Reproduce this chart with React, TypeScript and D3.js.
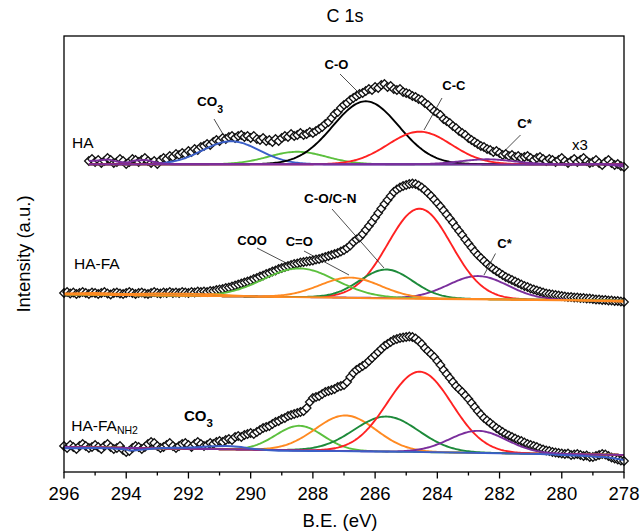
import React from 'react';
import * as d3 from 'd3';

// ---------- data ----------
const xTicks = [296, 294, 292, 290, 288, 286, 284, 282, 280, 278];
const xMinorTicks = [295, 293, 291, 289, 287, 285, 283, 281, 279];
const energyStep = 0.1;

// measured spectra (intensity, a.u.) sampled every 0.1 eV from the start energy downwards
const haStart = 295.2;
const haData = [
  311, 313, 310, 312, 309, 311, 314, 312, 309, 310,
  313, 311, 308, 310, 313, 312, 310, 312, 314, 311,
  309, 311, 308, 312, 314, 313, 316, 315, 318, 317,
  319, 318, 321, 320, 323, 322, 325, 326, 328, 327,
  330, 332, 331, 334, 333, 335, 336, 334, 336, 337,
  335, 336, 334, 336, 333, 332, 334, 331, 332, 330,
  333, 331, 334, 336, 335, 338, 336, 337, 339, 337,
  338, 340, 339, 341, 343, 345, 348, 350, 354, 358,
  360, 364, 367, 369, 372, 374, 376, 378, 379, 381,
  383, 382, 385, 384, 387, 388, 385, 386, 383, 382,
  383, 380, 379, 378, 376, 375, 373, 372, 369, 367,
  364, 361, 359, 357, 353, 351, 349, 346, 344, 341,
  339, 337, 334, 332, 330, 328, 326, 325, 323, 322,
  320, 321, 319, 317, 318, 316, 317, 315, 316, 314,
  315, 316, 314, 312, 314, 315, 313, 311, 313, 312,
  310, 312, 314, 311, 309, 311, 313, 310, 312, 314,
  311, 309, 310, 312, 309, 307, 310, 312, 309, 307,
  308, 306, 305,
];

const haFaStart = 296.0;
const haFaData = [
  179, 180, 178.5, 179.5, 178, 179, 180, 179, 178, 179.5,
  179, 178, 179, 180, 178.5, 177.5, 179, 179.5, 178.5, 178,
  179, 180, 179, 178, 179, 179.5, 178.5, 178, 179, 180,
  179, 178.5, 179.5, 179, 180, 179, 179.5, 179, 180, 179.5,
  179, 180, 179.5, 180.5, 180, 180.5, 180, 181, 181, 182,
  182.5, 183, 184, 184.5, 185.5, 186.5, 187.5, 188.5, 189.5, 190.5,
  191.5, 193, 194, 195.5, 196.5, 198, 199, 200.5, 201.5, 203,
  204, 205, 206, 207, 208, 208.5, 209.5, 210, 210.5, 211,
  211.5, 212.5, 213, 214, 215, 216, 217, 218, 219, 220.5,
  222, 224, 226.5, 230, 232.5, 234.5, 238, 242, 246, 250,
  254.5, 259, 263.5, 268, 272, 276, 280, 282.5, 284.5, 286,
  287, 288, 288.5, 288, 286.5, 284.5, 282, 279, 276, 272.5,
  269, 265.5, 261.5, 257.5, 253.5, 249.5, 245, 241, 237, 232.5,
  228.5, 224.5, 220.5, 217, 214, 211, 208, 205.5, 203, 201,
  199, 197, 195, 193.5, 192, 190.5, 189, 187.5, 186, 185,
  183.5, 182.5, 181.5, 180.5, 179.5, 178.5, 178, 177.5, 177, 176.5,
  176, 175.5, 175, 175, 174.5, 174.5, 174, 174, 173.5, 173.5,
  173, 172.5, 172.5, 172, 172, 171.5, 171.5, 171, 171, 170.5,
  170,
];

const nh2Start = 296.0;
const nh2Data = [
  26, 24, 27, 25, 23, 26, 28, 26, 24, 25,
  27, 25, 23, 26, 28, 25, 23, 24, 26, 22,
  20, 21, 24, 26, 25, 23, 25, 28, 30, 29,
  26, 24, 25, 27, 29, 26, 24, 26, 28, 29,
  27, 25, 28, 30, 28, 26, 27, 29, 28, 30,
  31, 30, 32, 33, 32, 35, 36, 35, 37, 38,
  39, 38, 40, 42, 44, 45, 46, 48, 50, 51,
  53, 54, 56, 57, 58, 59, 60, 61, 64, 70,
  74, 75, 76, 78, 80, 81, 82, 83, 85, 86,
  87, 90, 95, 99, 102, 104, 106, 108, 111, 114,
  117, 120, 123, 126, 128, 130, 132, 133, 134, 134.5,
  135, 135.5, 135, 133.5, 131, 128, 124, 121, 118, 115,
  111, 107, 102, 98, 94, 90, 86, 83, 80, 76.5,
  73, 69, 65, 61, 57.5, 54, 51.5, 49, 46.5, 44,
  42, 40, 38, 36.5, 35, 33.5, 32, 31, 29.5, 28,
  27, 26, 25, 23.5, 22.5, 21.5, 21, 20, 19.5, 19,
  18.5, 18, 18.5, 17, 17.5, 18, 17, 16, 16.5, 15,
  15, 16, 17, 18, 17.5, 16, 14.5, 13.5, 12.5, 11.5,
  11,
];

// fitted components (center eV, FWHM eV, height a.u.), listed in drawing order
const haPeaks = [
  { name: 'COO', center: 288.5, fwhm: 2.2, height: 12.5 },
  { name: 'CO3', center: 290.63, fwhm: 2.15, height: 23 },
  { name: 'C-O', center: 286.3, fwhm: 2.5, height: 63 },
  { name: 'C-C', center: 284.57, fwhm: 2.4, height: 32.6 },
  { name: 'C*', center: 282.4, fwhm: 2.0, height: 5 },
];
const haFaPeaks = [
  { name: 'C*', center: 282.69, fwhm: 2.25, height: 23 },
  { name: 'C-C', center: 284.57, fwhm: 2.4, height: 89.7 },
  { name: 'C-O/C-N', center: 285.64, fwhm: 2.0, height: 28.5 },
  { name: 'COO', center: 288.43, fwhm: 2.75, height: 28.6 },
  { name: 'C=O', center: 286.8, fwhm: 2.3, height: 20 },
];
const nh2Peaks = [
  { name: 'COO', center: 288.43, fwhm: 1.8, height: 24.5 },
  { name: 'C=O', center: 286.95, fwhm: 2.3, height: 35.5 },
  { name: 'C-O/C-N', center: 285.64, fwhm: 2.45, height: 35 },
  { name: 'C-C', center: 284.57, fwhm: 2.45, height: 80.3 },
  { name: 'C*', center: 282.69, fwhm: 2.15, height: 22 },
];

// linear baselines under the components: intensity at 296 eV and at 278 eV
const haBaseline = [307.7, 307.7];
const haFaBaseline = [177.6, 171.3];
const nh2Baseline = [25.0, 17.1];

// background lines [eV, intensity]
const haBackground = [
  [295.2, 311], [294.9, 311.5], [294.6, 312.5], [294.3, 310.5], [294.0, 309.5],
  [293.7, 311.5], [293.4, 312], [293.1, 310], [292.8, 308.5], [292.5, 307.8],
  [279.5, 307.5], [278.8, 308], [278.4, 307], [278.0, 305.5],
];
const haFaBackground = [
  [296, 178.5], [295, 179], [294, 178], [293, 178.5], [292, 178.2], [291.2, 177.7],
  [290.6, 176.5], [289.6, 175.3], [288, 174.7], [286, 173.7], [284, 173],
  [282, 172.4], [280, 171.7], [279, 171.2], [278, 170.3],
];
const nh2Background = [
  [296, 23.7], [295, 24], [294, 22.5], [293.9, 21.5], [293, 23.7], [292, 24.5],
  [291.2, 25.7], [290.8, 26], [290.4, 25.3], [290, 23.5], [289.5, 22], [289, 21.2],
  [288, 21], [286, 20.5], [284, 19.7], [282, 18.7], [280.5, 17.7], [280, 17],
  [279.5, 16.5], [279, 15.5], [278.5, 14.5], [278, 12],
];

// ---------- styles ----------
const peakColors: Record<string, string> = {
  'CO3': '#3b5fc8',
  'COO': '#5cc03e',
  'C=O': '#ff8a22',
  'C-O': '#000000',
  'C-O/C-N': '#1d8a3a',
  'C-C': '#ff2222',
  'C*': '#7a2e9c',
};
const FONT = "'Liberation Sans', Arial, Helvetica, sans-serif";

const W = 640, H = 531;
const x = d3.scaleLinear().domain([296, 278]).range([64, 624]);
const y = d3.scaleLinear().domain([0, 436]).range([472, 36]);
const line = d3.line<number[]>().x(d => x(d[0])).y(d => y(d[1]));
const smoothLine = d3.line<number[]>().x(d => x(d[0])).y(d => y(d[1])).curve(d3.curveMonotoneX);

function gauss(e: number, p: { center: number; fwhm: number; height: number }) {
  return p.height * Math.exp((-4 * Math.LN2 * (e - p.center) ** 2) / (p.fwhm * p.fwhm));
}

function Panel({ data, start, peaks, baseline, background, bgColor }: any) {
  const pts = data.map((v: number, i: number) => [start - i * energyStep, v]);
  const base = (e: number) => baseline[0] + ((baseline[1] - baseline[0]) * (296 - e)) / 18;
  const grid = d3.range(0, Math.round((start - 278) / 0.05) + 1).map(i => start - i * 0.05);
  const r = 4.3;
  return (
    <g>
      {pts.map((d: number[], i: number) => {
        const cx = x(d[0]), cy = y(d[1]);
        return (
          <path
            key={i}
            d={`M${cx},${cy - r}L${cx + r},${cy}L${cx},${cy + r}L${cx - r},${cy}Z`}
            fill="#fff"
            stroke="#111"
            strokeWidth={1.25}
          />
        );
      })}
      {peaks.map((p: any, i: number) => (
        <path
          key={'p' + i}
          d={line(grid.map(e => [e, base(e) + gauss(e, p)])) || ''}
          fill="none"
          stroke={peakColors[p.name]}
          strokeWidth={1.9}
        />
      ))}
      <path d={smoothLine(background) || ''} fill="none" stroke={bgColor} strokeWidth={1.9} />
    </g>
  );
}

function Leader({ x1, y1, x2, y2 }: any) {
  return <line x1={x1} y1={y1} x2={x2} y2={y2} stroke="#222" strokeWidth={0.8} />;
}

export default function App() {
  const boldLbl = { fontFamily: FONT, fontWeight: 700, fontSize: 13, fill: '#000' } as const;
  const lbl = { fontFamily: FONT, fontSize: 15.5, fill: '#000' } as const;
  return (
    <svg width={W} height={H} style={{ position: 'absolute', left: 0, top: 0, background: '#fff' }}>
      <rect x={0} y={0} width={W} height={H} fill="#fff" />
      <text x={345} y={22} textAnchor="middle" fontFamily={FONT} fontSize={18}>C 1s</text>

      <Panel data={haData} start={haStart} peaks={haPeaks} baseline={haBaseline} background={haBackground} bgColor={peakColors['C*']} />
      <Panel data={haFaData} start={haFaStart} peaks={haFaPeaks} baseline={haFaBaseline} background={haFaBackground} bgColor={peakColors['C=O']} />
      <Panel data={nh2Data} start={nh2Start} peaks={nh2Peaks} baseline={nh2Baseline} background={nh2Background} bgColor={peakColors['CO3']} />

      {/* frame */}
      <rect x={x(296)} y={y(436)} width={x(278) - x(296)} height={y(0) - y(436)} fill="none" stroke="#000" strokeWidth={1.3} />

      {/* x axis ticks */}
      {xTicks.map(t => (
        <g key={t}>
          <line x1={x(t)} x2={x(t)} y1={y(0)} y2={y(0) + 6.5} stroke="#000" strokeWidth={1.3} />
          <text x={x(t)} y={500} textAnchor="middle" fontFamily={FONT} fontSize={18.5}>{t}</text>
        </g>
      ))}
      {xMinorTicks.map(t => (
        <line key={t} x1={x(t)} x2={x(t)} y1={y(0)} y2={y(0) + 3.5} stroke="#000" strokeWidth={1.3} />
      ))}
      <text x={340} y={527} textAnchor="middle" fontFamily={FONT} fontSize={18.5}>B.E. (eV)</text>
      <text transform="translate(30,254) rotate(-90)" textAnchor="middle" fontFamily={FONT} fontSize={18.5}>Intensity (a.u.)</text>

      {/* HA annotations */}
      <text x={72} y={147.5} {...lbl}>HA</text>
      <text x={572} y={150} {...lbl} fontSize={15}>x3</text>
      <text x={197} y={106} {...boldLbl} fontSize={13.5}>CO<tspan dy={6.5} fontSize={10.5}>3</tspan></text>
      <Leader x1={214} y1={119} x2={223.5} y2={135} />
      <text x={324.5} y={69} {...boldLbl}>C-O</text>
      <Leader x1={340} y1={74} x2={359} y2={93} />
      <text x={442.3} y={90} {...boldLbl}>C-C</text>
      <Leader x1={442} y1={98} x2={424} y2={130} />
      <text x={517.3} y={128} {...boldLbl}>C*</text>
      <Leader x1={520.5} y1={135} x2={504} y2={151.5} />

      {/* HA-FA annotations */}
      <text x={74} y={269} {...lbl}>HA-FA</text>
      <text x={237.3} y={245} {...boldLbl}>COO</text>
      <Leader x1={257} y1={248} x2={294} y2={267} />
      <text x={285.7} y={246} {...boldLbl}>C=O</text>
      <Leader x1={304} y1={251} x2={349} y2={275} />
      <text x={304} y={203} {...boldLbl} fontSize={13.5}>C-O/C-N</text>
      <Leader x1={332} y1={209} x2={384} y2={268} />
      <text x={497.3} y={248} {...boldLbl}>C*</text>
      <Leader x1={495.5} y1={253.5} x2={484} y2={275} />

      {/* HA-FA NH2 annotations */}
      <text x={71.3} y={430.7} {...lbl}>HA-FA<tspan dy={3.5} fontSize={10.5}>NH2</tspan></text>
      <text x={184} y={421} {...boldLbl} fontSize={15}>CO<tspan dy={6} fontSize={11.5}>3</tspan></text>
    </svg>
  );
}
